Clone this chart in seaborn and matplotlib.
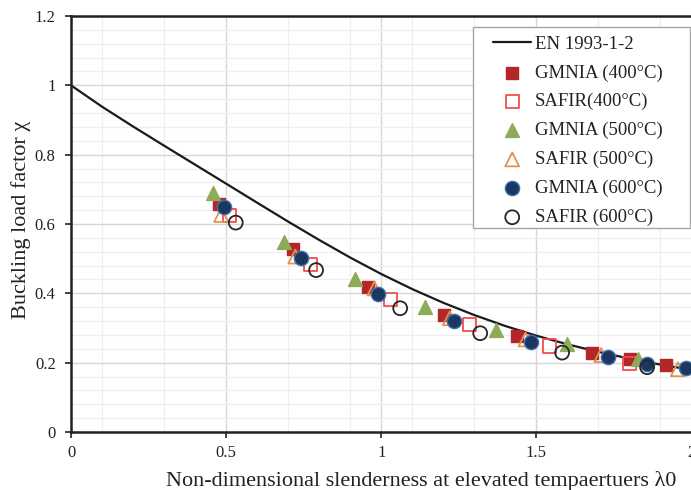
import numpy as np
import pandas as pd
import matplotlib
matplotlib.use("Agg")
import matplotlib.pyplot as plt
from matplotlib.patches import Rectangle
from matplotlib.ticker import MultipleLocator, FixedLocator, FuncFormatter
import seaborn as sns

# EN 1993-1-2 buckling curve (values at 0.1 steps of slenderness)
en_lambda = [0.0, 0.1, 0.2, 0.3, 0.4, 0.5, 0.6, 0.7, 0.8, 0.9, 1.0,
             1.1, 1.2, 1.3, 1.4, 1.5, 1.6, 1.7, 1.8, 1.9, 2.0]
en_chi = [1.0, 0.9384, 0.8813, 0.8260, 0.7712, 0.7164, 0.6614, 0.6069, 0.5539,
          0.5032, 0.4557, 0.4122, 0.3727, 0.3373, 0.3057, 0.2778, 0.2530,
          0.2311, 0.2117, 0.1944, 0.1791]

# GMNIA and SAFIR results
gmnia400_x = [0.478, 0.717, 0.956, 1.201, 1.438, 1.680, 1.801, 1.919]
gmnia400_y = [0.657, 0.528, 0.419, 0.337, 0.276, 0.227, 0.210, 0.193]
safir400_x = [0.511, 0.771, 1.029, 1.285, 1.543, 1.801]
safir400_y = [0.624, 0.484, 0.383, 0.311, 0.248, 0.198]
gmnia500_x = [0.457, 0.687, 0.914, 1.142, 1.371, 1.599, 1.827]
gmnia500_y = [0.688, 0.549, 0.440, 0.361, 0.294, 0.253, 0.210]
safir500_x = [0.484, 0.723, 0.978, 1.221, 1.465, 1.709, 1.956]
safir500_y = [0.626, 0.506, 0.414, 0.328, 0.267, 0.222, 0.181]
gmnia600_x = [0.493, 0.741, 0.988, 1.236, 1.483, 1.730, 1.857, 1.981]
gmnia600_y = [0.648, 0.501, 0.397, 0.320, 0.259, 0.215, 0.196, 0.184]
safir600_x = [0.531, 0.790, 1.061, 1.319, 1.583, 1.857]
safir600_y = [0.604, 0.467, 0.357, 0.285, 0.229, 0.187]

x_ticks = [0, 0.5, 1, 1.5, 2]
y_ticks = [0, 0.2, 0.4, 0.6, 0.8, 1.0, 1.2]

sns.set_theme(style="white")
plt.rcParams["font.family"] = ["Liberation Serif", "DejaVu Serif"]

W, H = 691, 490
fig = plt.figure(figsize=(W / 100, H / 100), dpi=100)
ax = fig.add_axes([71 / W, 1 - 432 / H, 620.5 / W, 416 / H])

# grid
ax.set_xlim(0, 2)
ax.set_ylim(0, 1.2)
ax.xaxis.set_major_locator(FixedLocator(x_ticks))
ax.yaxis.set_major_locator(FixedLocator(y_ticks))
ax.xaxis.set_minor_locator(FixedLocator([0.1, 0.3, 0.7, 0.9, 1.1, 1.3, 1.7, 1.9]))
ax.yaxis.set_minor_locator(MultipleLocator(0.04))
ax.grid(which="major", color="#d6d6d6", linewidth=1.0)
ax.grid(which="minor", color="#eeeeee", linewidth=0.9)
ax.set_axisbelow(True)

en_df = pd.DataFrame({"lam": en_lambda, "chi": en_chi})
sns.lineplot(data=en_df, x="lam", y="chi", color="#1a1a1a", linewidth=1.6,
             label="EN 1993-1-2", ax=ax, zorder=3)

series = [
    (gmnia400_x, gmnia400_y, "GMNIA (400°C)", "s", "#b3262a", True, 80),
    (safir400_x, safir400_y, "SAFIR(400°C)", "s", "#f24d4d", False, 90),
    (gmnia500_x, gmnia500_y, "GMNIA (500°C)", "^", "#8eab5a", True, 100),
    (safir500_x, safir500_y, "SAFIR (500°C)", "^", "#e39252", False, 100),
    (gmnia600_x, gmnia600_y, "GMNIA (600°C)", "o", "#1b365f", True, 105),
    (safir600_x, safir600_y, "SAFIR (600°C)", "o", "#262626", False, 100),
]
for xs, ys, lab, mk, col, filled, size in series:
    if filled:
        edge = "#3f6fae" if mk == "o" else col
        sns.scatterplot(x=xs, y=ys, marker=mk, s=size, color=col,
                        edgecolor=edge, linewidth=1.0, label=lab, ax=ax, zorder=4)
    else:
        sns.scatterplot(x=xs, y=ys, marker=mk, s=size, color=col,
                        facecolor="none", edgecolor=col, linewidth=1.3,
                        label=lab, ax=ax, zorder=4)

fmt = FuncFormatter(lambda v, p: ("%g" % round(v, 2)))
ax.xaxis.set_major_formatter(fmt)
ax.yaxis.set_major_formatter(fmt)
ax.tick_params(axis="both", which="major", labelsize=12, colors="#222222",
               length=4, width=1.2, direction="out", bottom=True, left=True)
ax.tick_params(axis="x", which="major", pad=5)
ax.tick_params(axis="y", which="major", pad=7)
ax.tick_params(axis="both", which="minor", length=0)

for side in ["left", "bottom", "top"]:
    ax.spines[side].set_color("#222222")
    ax.spines[side].set_linewidth(1.8)
ax.spines["right"].set_visible(False)

ax.set_xlabel("Non-dimensional slenderness at elevated tempaertuers λ0",
              fontsize=16, color="#222222")
ax.set_ylabel("Buckling load factor χ", fontsize=16, color="#222222")
ax.xaxis.set_label_coords((421 - 71) / 620.5, (432 - 471) / 416)
ax.yaxis.set_label_coords((31 - 71) / 620.5, 0.51)

# legend with its own frame
leg = ax.legend(loc="upper left", bbox_to_anchor=(493 / W, 1 - 35.5 / H),
                bbox_transform=fig.transFigure, fontsize=13.5, frameon=False,
                handlelength=2.05, handletextpad=0.2, labelspacing=0.62,
                borderpad=0.0, borderaxespad=0.0)
for t in leg.get_texts():
    t.set_color("#222222")
frame = Rectangle((473 / W, 1 - 228 / H), 217 / W, 201 / H,
                  transform=fig.transFigure, facecolor="white",
                  edgecolor="#a6a6a6", linewidth=1.0, zorder=5)
fig.add_artist(frame)
leg.set_zorder(6)
fig.add_artist(leg)

fig.savefig("out.png", dpi=100)
